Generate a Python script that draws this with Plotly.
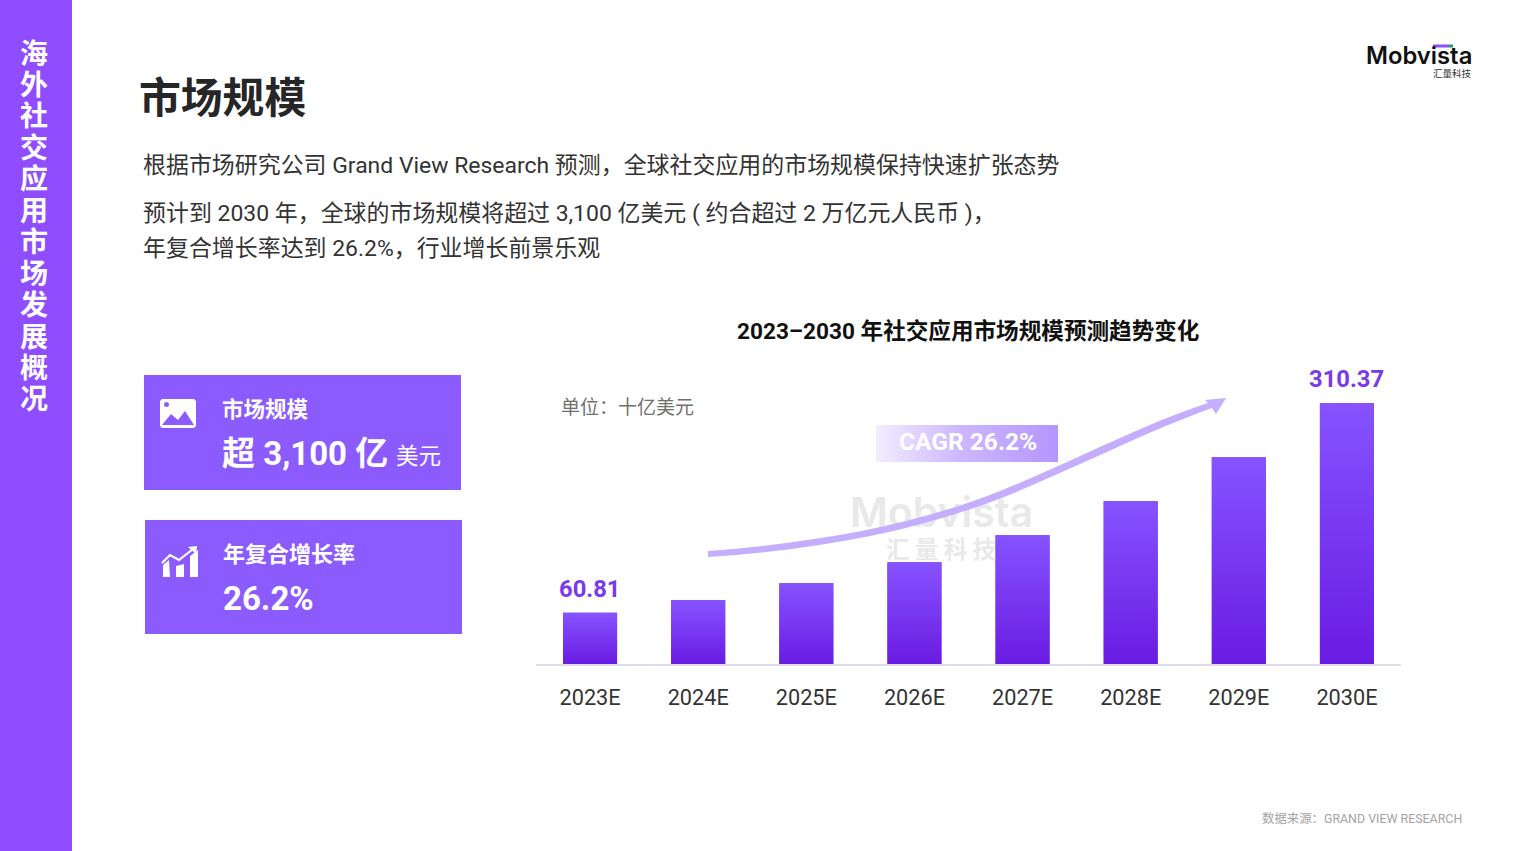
import plotly.graph_objects as go

categories = ["2023E", "2024E", "2025E", "2026E", "2027E", "2028E", "2029E", "2030E"]
market_size = [60.81, 76.0, 96.0, 121.0, 153.2, 193.6, 245.9, 310.37]
bar_labels = ["60.81", "", "", "", "", "", "", "310.37"]
positions = list(range(len(categories)))

W, H = 1513, 851
FONT = "Roboto, 'Noto Sans CJK SC', sans-serif"
CJK = "'Noto Sans CJK SC', sans-serif"
BAR_HALF = 0.25
PX_PER_UNIT = 0.841
BASE_Y = 664
TOP_Y = 340


def px(x):
    return x / W


def py(y):
    return 1 - y / H


def path(points):
    """SVG path written in page pixels, converted to paper fractions."""
    out = []
    for t in points:
        cmd, coords = t[0], t[1:]
        vals = [
            f"{px(coords[i]):.5f},{py(coords[i + 1]):.5f}" for i in range(0, len(coords), 2)
        ]
        out.append(cmd + " ".join(vals))
    return " ".join(out) + " Z"


def rect(x0, y0, x1, y1, color):
    return dict(type="rect", xref="paper", yref="paper", x0=px(x0), x1=px(x1), y0=py(y0), y1=py(y1),
                fillcolor=color, line_width=0, layer="below")


def poly(points, color, layer="above"):
    return dict(type="path", xref="paper", yref="paper", path=path(points), fillcolor=color,
                line_width=0, layer=layer)


def label(text, x, y, size, color, anchor="left", weight=400, family=FONT):
    return dict(text=text, x=px(x), y=py(y), xref="paper", yref="paper", xanchor=anchor, yanchor="middle",
                showarrow=False, align=anchor, font=dict(family=family, size=size, color=color, weight=weight))


fig = go.Figure()

# Real bars
fig.add_trace(go.Bar(
    x=positions, y=market_size, width=BAR_HALF * 2, marker=dict(color="#7a36f5", line_width=0),
    hoverinfo="x+y",
))

# Vertical gradient painted over each bar, from the same values
for p, v in zip(positions, market_size):
    fig.add_trace(go.Scatter(
        x=[p - BAR_HALF, p + BAR_HALF, p + BAR_HALF, p - BAR_HALF, p - BAR_HALF],
        y=[0, 0, v, v, 0], mode="lines", line=dict(width=0), fill="toself", hoverinfo="skip",
        fillgradient=dict(type="vertical", colorscale=[[0, "#6a1be2"], [1, "#8653ff"]]),
        showlegend=False,
    ))

# Page-pixel axes: watermark and CAGR badge
fig.add_trace(go.Scatter(
    x=[941.5, 941], y=[517, 552], xaxis="x2", yaxis="y2", mode="text", text=["Mobvista", "汇 量 科 技"],
    textposition="middle center", hoverinfo="skip", showlegend=False,
    textfont=dict(family=["Inter", CJK], size=[41, 23.5], color="#e9e9e9", weight=600),
))
fig.add_trace(go.Scatter(
    x=[876, 1058, 1058, 876, 876], y=[425, 425, 462, 462, 425], xaxis="x2", yaxis="y2", mode="lines",
    line=dict(width=0), fill="toself", hoverinfo="skip", showlegend=False,
    fillgradient=dict(type="horizontal", colorscale=[[0, "#f3edff"], [0.45, "#cdb8ff"], [1, "#b596ff"]]),
))

shapes = [
    rect(0, 0, 72, H, "#8f4dff"),
    rect(144, 375, 461, 490, "#8b5bfd"),
    rect(145, 520, 462, 634, "#8b5bfd"),
    # logo accent
    rect(1433, 44.5, 1449, 47.5, "#8f4dff"),
    rect(1449, 44.5, 1453, 47.5, "#1f9d55"),
    # growth arrow
    poly([("M", 708, 551), ("C", 810, 543, 910, 527, 1000, 491), ("C", 1075, 461, 1140, 425, 1208, 403),
          ("L", 1205, 400), ("L", 1226, 398), ("L", 1216, 414), ("L", 1212, 408),
          ("C", 1145, 432, 1080, 466, 1004, 497), ("C", 915, 532, 815, 550, 708, 557)], "#c5aefe"),
    # picture icon
    dict(type="path", xref="paper", yref="paper", fillcolor="#ffffff", line_width=0, layer="above",
         path=path([("M", 162, 399), ("L", 194, 399), ("L", 196, 401), ("L", 196, 426), ("L", 194, 428),
                    ("L", 162, 428), ("L", 160, 426), ("L", 160, 401)])),
    poly([("M", 162, 425), ("L", 171, 414), ("L", 178, 420), ("L", 185, 411), ("L", 194, 425)], "#8b5bfd"),
    dict(type="circle", xref="paper", yref="paper", x0=px(164), x1=px(169), y0=py(407), y1=py(402),
         fillcolor="#8b5bfd", line_width=0, layer="above"),
    # growth icon
    poly([("M", 163, 577), ("L", 163, 565), ("L", 169, 560), ("L", 170, 577)], "#ffffff"),
    poly([("M", 176, 577), ("L", 176, 566), ("L", 184, 564), ("L", 184, 577)], "#ffffff"),
    poly([("M", 190, 577), ("L", 190, 556), ("L", 198, 550), ("L", 198, 577)], "#ffffff"),
    dict(type="path", xref="paper", yref="paper", line=dict(color="#ffffff", width=2.2), layer="above",
         path=" ".join(["M" + f"{px(162):.5f},{py(563):.5f}", "L" + f"{px(170):.5f},{py(555):.5f}",
                        "L" + f"{px(179):.5f},{py(560):.5f}", "L" + f"{px(193):.5f},{py(549):.5f}"])),
    poly([("M", 188, 547), ("L", 197, 546), ("L", 196, 554)], "#ffffff"),
]

side = "海外社交应用市场发展概况"
annotations = [label(c, 34, 51.5 + i * 31.45, 28, "#ffffff", "center", 700, CJK) for i, c in enumerate(side)]
annotations += [
    label("市场规模", 137, 95, 41.8, "#262626", "left", 700, CJK),
    label("根据市场研究公司 Grand View Research 预测，全球社交应用的市场规模保持快速扩张态势", 141, 165, 22.95, "#333333"),
    label("预计到 2030 年，全球的市场规模将超过 3,100 亿美元 ( 约合超过 2 万亿元人民币 )，", 141, 213, 22.95, "#333333"),
    label("年复合增长率达到 26.2%，行业增长前景乐观", 141, 248.5, 22.95, "#333333"),
    label("2023–2030 年社交应用市场规模预测趋势变化", 967.5, 331, 22.6, "#111111", "center", 700),
    label("单位：十亿美元", 559, 407.5, 19, "#707070", "left"),
    label("CAGR 26.2%", 967.5, 441, 24.5, "#ffffff", "center", 700),
    label("市场规模", 219.5, 409.5, 21.5, "#ffffff", "left", 700),
    label("超 3,100 亿", 219.5, 453, 33, "#ffffff", "left", 700),
    label("美元", 394, 456, 22.5, "#ffffff", "left"),
    label("年复合增长率", 220.5, 554.5, 22, "#ffffff", "left", 700),
    label("26.2%", 220.5, 598, 33, "#ffffff", "left", 700),
    label("Mobvista", 1419, 55, 23.8, "#111111", "center", 600, "Inter"),
    label("汇量科技", 1474, 73, 9.5, "#333333", "right", 400, CJK),
    label("数据来源：GRAND VIEW RESEARCH", 1464, 818, 12.4, "#a3a3a3", "right"),
]
for p, v, t in zip(positions, market_size, bar_labels):
    if t:
        annotations.append(dict(
            text=t, x=p, y=v, xref="x", yref="y", xanchor="center", yanchor="bottom", yshift=8,
            showarrow=False, font=dict(family=FONT, size=23.8, color="#7a3ae8", weight=700),
        ))

y_top = (BASE_Y - TOP_Y) / PX_PER_UNIT
fig.update_layout(
    width=W, height=H, autosize=False, margin=dict(l=0, r=0, t=0, b=0), showlegend=False,
    paper_bgcolor="#ffffff", plot_bgcolor="rgba(0,0,0,0)", barmode="overlay",
    font=dict(family=FONT),
    shapes=shapes, annotations=annotations,
    xaxis=dict(domain=[px(536), px(1401)], range=[-0.5, 7.5], tickmode="array", tickvals=positions,
               ticktext=categories, tickfont=dict(family=FONT, size=21.7, color="#333333"), ticks="",
               showgrid=False, zeroline=False, showline=True, linecolor="#dedce6", linewidth=1.5,
               ticklabelstandoff=13, anchor="y", fixedrange=True),
    yaxis=dict(domain=[py(BASE_Y), py(TOP_Y)], range=[0, y_top], visible=False, fixedrange=True, anchor="x"),
    xaxis2=dict(domain=[0, 1], range=[0, W], visible=False, anchor="y2", fixedrange=True),
    yaxis2=dict(domain=[0, 1], range=[H, 0], visible=False, anchor="x2", fixedrange=True),
)

fig.write_html("out.html", config=dict(displayModeBar=False),
               post_script="document.body.style.margin='0';document.body.style.overflow='hidden';")
